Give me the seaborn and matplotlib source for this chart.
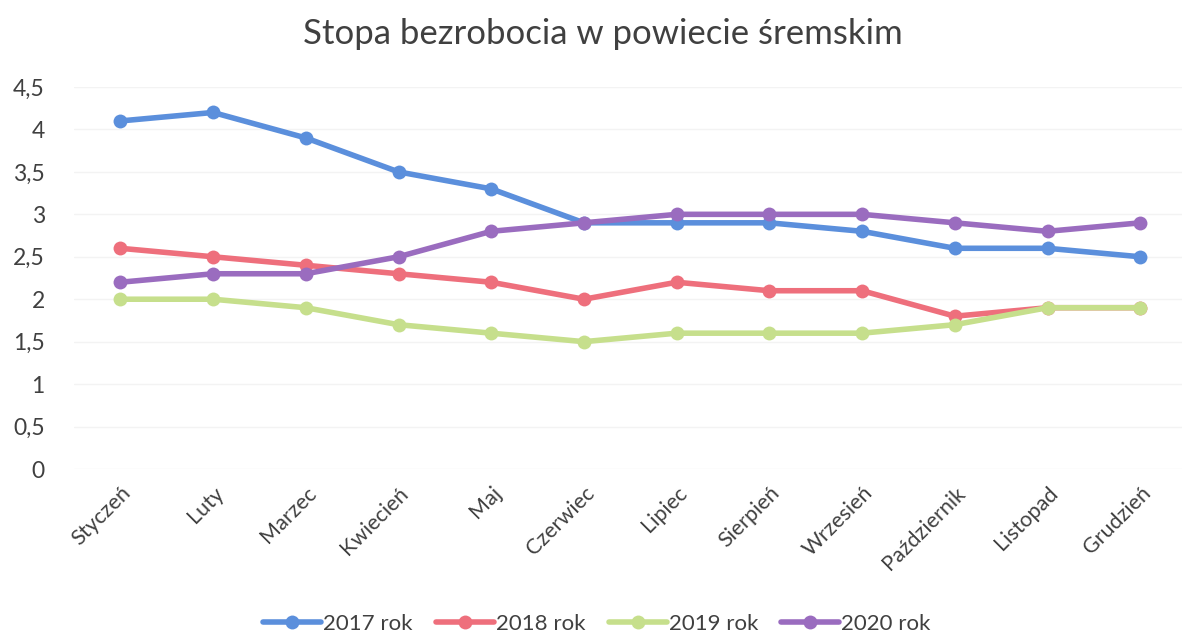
import pandas as pd
import matplotlib.pyplot as plt
import seaborn as sns

months = ['Styczeń', 'Luty', 'Marzec', 'Kwiecień', 'Maj', 'Czerwiec', 'Lipiec',
          'Sierpień', 'Wrzesień', 'Październik', 'Listopad', 'Grudzień']
rate_2017 = [4.1, 4.2, 3.9, 3.5, 3.3, 2.9, 2.9, 2.9, 2.8, 2.6, 2.6, 2.5]
rate_2018 = [2.6, 2.5, 2.4, 2.3, 2.2, 2.0, 2.2, 2.1, 2.1, 1.8, 1.9, 1.9]
rate_2019 = [2.0, 2.0, 1.9, 1.7, 1.6, 1.5, 1.6, 1.6, 1.6, 1.7, 1.9, 1.9]
rate_2020 = [2.2, 2.3, 2.3, 2.5, 2.8, 2.9, 3.0, 3.0, 3.0, 2.9, 2.8, 2.9]
series = ['2017 rok', '2018 rok', '2019 rok', '2020 rok']
colors = ['#5b8fdc', '#ee6f7c', '#c6df8c', '#9a6cbf']

# long format for seaborn
rows = []
for name, vals in zip(series, [rate_2017, rate_2018, rate_2019, rate_2020]):
    for i, v in enumerate(vals):
        rows.append({'Miesiąc': i, 'Stopa': v, 'Rok': name})
df = pd.DataFrame(rows)

sns.set_style('white')
plt.rcParams['font.family'] = ['Lato', 'DejaVu Sans']

fig = plt.figure(figsize=(11.82, 6.34), dpi=100)
ax = fig.add_axes([74 / 1182, 165 / 634, 1108 / 1182, 382 / 634])

sns.lineplot(data=df, x='Miesiąc', y='Stopa', hue='Rok', palette=colors,
             marker='o', markersize=10, markeredgewidth=0, linewidth=4,
             sort=False, ax=ax, legend=True)

ax.set_xlim(-0.5, 11.45)
ax.set_ylim(0, 4.5)
ax.set_yticks([0, 0.5, 1, 1.5, 2, 2.5, 3, 3.5, 4, 4.5])
ax.set_yticklabels(['0', '0,5', '1', '1,5', '2', '2,5', '3', '3,5', '4', '4,5'],
                   fontsize=16.5, color='#404040')
ax.set_xticks(range(len(months)))
ax.set_xticklabels(months, rotation=45, ha='right', rotation_mode='anchor',
                   fontsize=15.5, color='#404040')
ax.tick_params(axis='y', length=0, pad=21)
ax.tick_params(axis='x', length=0, pad=10)
ax.grid(axis='y', color='#f3f3f3', linewidth=1)
for s in ax.spines.values():
    s.set_visible(False)
ax.set_xlabel('')
ax.set_ylabel('')

fig.suptitle('Stopa bezrobocia w powiecie śremskim', fontsize=25,
             color='#404040', y=0.972, x=0.51)

handles, labels = ax.get_legend_handles_labels()
ax.legend(handles, labels, loc='center', bbox_to_anchor=(0.472, -0.405),
          ncol=4, frameon=False, fontsize=16, handlelength=2.6,
          columnspacing=1.05, handletextpad=0.1, labelcolor='#404040')

fig.savefig('out.png', dpi=100, facecolor='white')
